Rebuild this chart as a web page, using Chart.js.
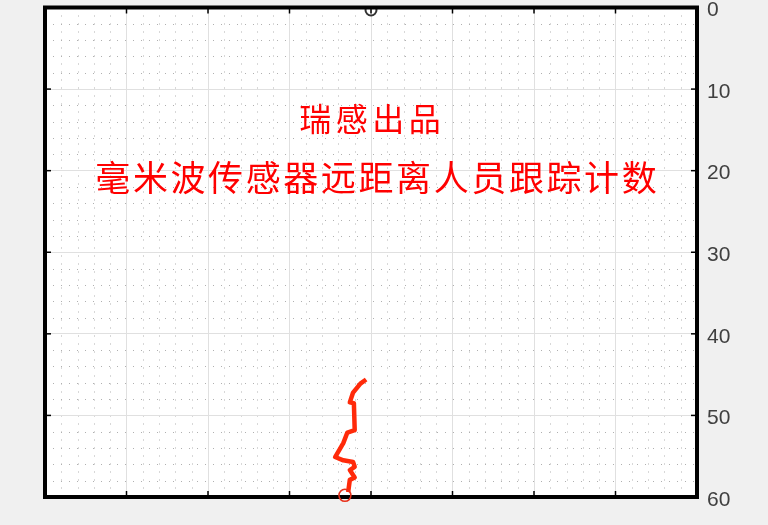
<!DOCTYPE html>
<html>
<head>
<meta charset="utf-8">
<script src="https://cdn.jsdelivr.net/npm/chart.js@4.4.1/dist/chart.umd.min.js"></script>
<style>
html,body{margin:0;padding:0;background:#f0f0f0;}
canvas{display:block;}
</style>
</head>
<body>
<canvas id="c" width="768" height="525"></canvas>
<script>
// ---- data ----
const trackX = [-0.06,-0.13,-0.22,-0.26,-0.21,-0.20,-0.29,-0.34,-0.44,-0.34,-0.22,-0.20,-0.26,-0.20,-0.26,-0.28];
const trackY = [45.6,46.1,47.2,48.4,48.5,51.8,52.1,53.4,55.1,55.5,55.7,56.3,56.7,57.6,57.9,59.4];
const endX = [-0.32];
const endY = [59.8];
const radarX = [0];
const radarY = [0.3];
const yTicks = [0,10,20,30,40,50,60];
const xRange = [-4,4];
const titleLine1 = "瑞感出品";
const titleLine2 = "毫米波传感器远距离人员跟踪计数";

const toPts = (xs, ys) => xs.map((x,i)=>({x:x, y:ys[i]}));

const bgPlugin = {
  id:'bg',
  beforeDraw(chart){
    const {ctx, chartArea:a} = chart;
    ctx.save();
    ctx.fillStyle = '#ffffff';
    ctx.fillRect(a.left, a.top, a.right-a.left, a.bottom-a.top);
    ctx.strokeStyle = '#b0b0b0';
    ctx.lineWidth = 1;
    ctx.setLineDash([1,7]);
    const xs = chart.scales.x, ys = chart.scales.y;
    const xt = xs.ticks.map(t=>t.value), yt = ys.ticks.map(t=>t.value);
    for (let i=0;i<xt.length-1;i++){
      const st=(xt[i+1]-xt[i])/5;
      for (let k=1;k<5;k++){
        const p=Math.round(xs.getPixelForValue(xt[i]+k*st))+0.5;
        ctx.beginPath();ctx.moveTo(p,a.top);ctx.lineTo(p,a.bottom);ctx.stroke();
      }
    }
    for (let i=0;i<yt.length-1;i++){
      const st=(yt[i+1]-yt[i])/5;
      for (let k=1;k<5;k++){
        const p=Math.round(ys.getPixelForValue(yt[i]+k*st))+0.5;
        ctx.beginPath();ctx.moveTo(a.left,p);ctx.lineTo(a.right,p);ctx.stroke();
      }
    }
    ctx.restore();
  }
};

const framePlugin = {
  id:'frame',
  beforeDatasetDraw(chart, args){
    if (args.index !== 1) return;
    const {ctx, chartArea:a} = chart;
    const xs = chart.scales.x, ys = chart.scales.y;
    ctx.save();
    ctx.strokeStyle='#000';ctx.lineWidth=1.5;ctx.setLineDash([]);
    xs.ticks.forEach(t=>{
      const p=xs.getPixelForValue(t.value);
      ctx.beginPath();ctx.moveTo(p,a.top);ctx.lineTo(p,a.top+6);ctx.stroke();
      ctx.beginPath();ctx.moveTo(p,a.bottom);ctx.lineTo(p,a.bottom-6);ctx.stroke();
    });
    ys.ticks.forEach(t=>{
      const p=ys.getPixelForValue(t.value);
      ctx.beginPath();ctx.moveTo(a.left,p);ctx.lineTo(a.left+6,p);ctx.stroke();
      ctx.beginPath();ctx.moveTo(a.right,p);ctx.lineTo(a.right-6,p);ctx.stroke();
    });
    ctx.lineWidth=4;
    ctx.strokeRect(a.left,a.top,a.right-a.left,a.bottom-a.top);
    ctx.fillStyle='#ff0000';
    ctx.textAlign='center';ctx.textBaseline='middle';
    const drawLine=(txt,cx,cy,size,pitch)=>{
      ctx.font = size+'px "Noto Sans CJK SC"';
      const chars=[...txt];
      const start=cx-pitch*(chars.length-1)/2;
      chars.forEach((ch,i)=>ctx.fillText(ch,start+i*pitch,cy));
    };
    drawLine(titleLine1,370,119,32,36.5);
    drawLine(titleLine2,376,178,35,37.6);
    ctx.restore();
  }
};

new Chart(document.getElementById('c'), {
  type:'scatter',
  data:{
    datasets:[
      {data:toPts(radarX,radarY), pointRadius:5.5, pointBorderColor:'#333', pointBackgroundColor:'rgba(0,0,0,0)', pointBorderWidth:2, order:3},
      {data:toPts(endX,endY), pointRadius:6, pointBorderColor:'#e8301a', pointBackgroundColor:'rgba(0,0,0,0)', pointBorderWidth:1.5, clip:false, order:1},
      {data:toPts(trackX,trackY), showLine:true, borderColor:'#ff2a0a', borderWidth:4.5, pointRadius:0, tension:0, borderJoinStyle:'round', order:2}
    ]
  },
  options:{
    responsive:false,
    animation:false,
    devicePixelRatio:1,
    layout:{padding:{left:45,top:5,bottom:28,right:0}},
    plugins:{legend:{display:false},tooltip:{enabled:false}},
    scales:{
      x:{
        type:'linear', min:xRange[0], max:xRange[1],
        ticks:{display:false, stepSize:1},
        grid:{color:'#e0e0e0', lineWidth:1, drawTicks:false},
        border:{display:false},
        afterFit(s){ s.height=0; s.paddingLeft=0; s.paddingRight=0; }
      },
      y:{
        type:'linear', position:'right', reverse:true, min:0, max:60,
        afterBuildTicks(s){ s.ticks = yTicks.map(v=>({value:v})); },
        ticks:{color:'#404040', font:{family:'"Liberation Sans", Arial', size:21}, padding:10, labelOffset:3},
        grid:{color:'#e0e0e0', lineWidth:1, drawTicks:false},
        border:{display:false},
        afterFit(s){ s.width=71; s.paddingTop=0; s.paddingBottom=0; }
      }
    }
  },
  plugins:[bgPlugin, framePlugin]
});
</script>
</body>
</html>
